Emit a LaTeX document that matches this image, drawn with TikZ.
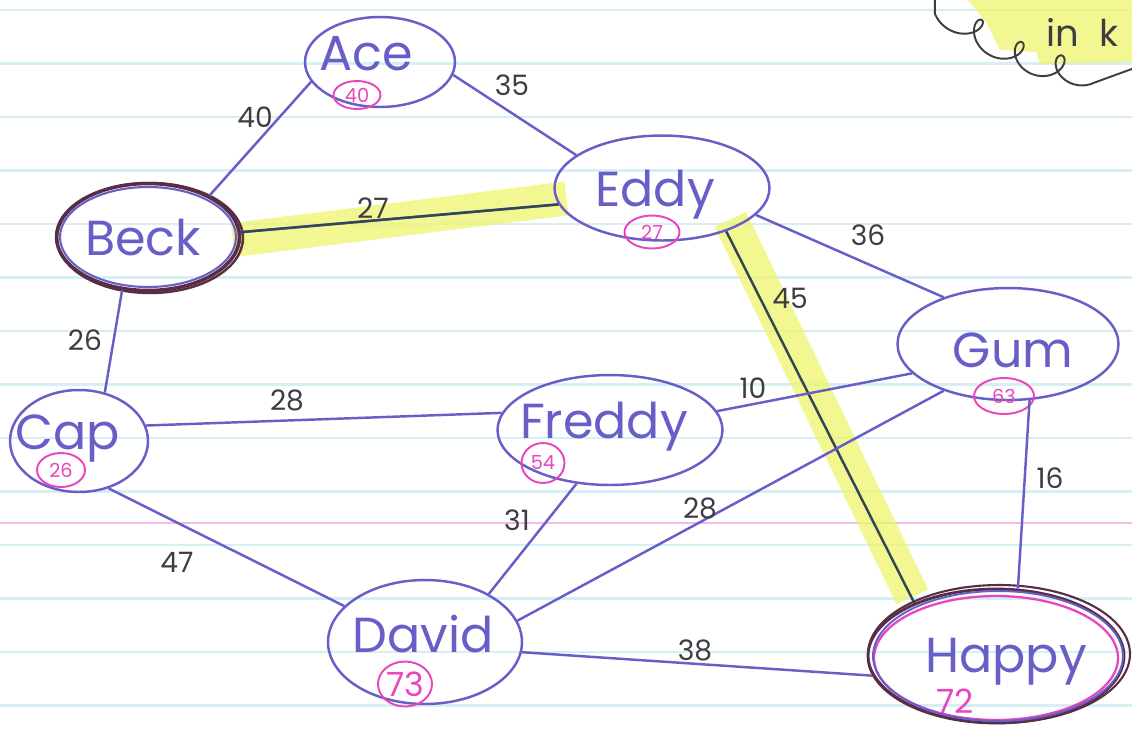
\documentclass[tikz,border=0pt]{standalone}
\usepackage{fontspec}
\setmainfont{Poppins}
\usetikzlibrary{shapes.geometric}
\definecolor{ink}{RGB}{104,94,200}
\definecolor{pen}{RGB}{62,62,66}
\definecolor{pinkink}{RGB}{232,70,190}
\definecolor{hl}{RGB}{238,245,110}
\definecolor{ruled}{RGB}{214,239,244}
\definecolor{marginline}{RGB}{242,186,230}
\definecolor{darkpen}{RGB}{52,70,84}
\definecolor{maroon}{RGB}{88,45,70}
\pgfdeclarelayer{bg}
\pgfsetlayers{bg,main}
\begin{document}
\begin{tikzpicture}[x=0.02cm,y=-0.02cm,
  vertex/.style={ellipse, draw=ink, line width=1.4pt, inner sep=0pt},
  vname/.style={text=ink, font=\fontsize{28}{28}\selectfont, anchor=base, inner sep=0pt},
  cost/.style={ellipse, draw=pinkink, line width=1.1pt, text=pinkink, inner sep=0pt, font=\fontsize{11}{11}\selectfont},
  weight/.style={text=pen, font=\fontsize{16}{16}\selectfont, inner sep=0pt},
  link/.style={draw=ink, line width=1.4pt},
  chosen/.style={draw=darkpen, line width=1.4pt},
  band/.style={draw=hl, line width=0.68cm, opacity=0.75, line cap=butt},
  rule/.style={draw=ruled, line width=1.2pt}
]
\clip (0,0) rectangle (1132,731);

\begin{pgfonlayer}{bg}
  \fill[white] (0,0) rectangle (1132,731);
  \foreach \k in {0,...,13} {
    \draw[rule] (0,{10+53.5*\k}) -- (1132,{10+53.5*\k});
  }
  \draw[draw=marginline, line width=1.2pt] (0,523) -- (1132,523);
\end{pgfonlayer}

% vertices
\node[vertex, minimum width=3.0cm, minimum height=1.8cm] (ace) at (380,62) {};
\node[vertex, minimum width=4.3cm, minimum height=2.1cm] (eddy) at (662,188) {};
\node[vertex, draw=maroon, line width=2pt, minimum width=3.66cm, minimum height=2.14cm] (beck) at (148,237) {};
\node[vertex, minimum width=2.76cm, minimum height=2.04cm] (cap) at (79,441) {};
\node[vertex, minimum width=4.5cm, minimum height=2.2cm] (freddy) at (610,430) {};
\node[vertex, minimum width=4.42cm, minimum height=2.24cm] (gum) at (1008,344) {};
\node[vertex, minimum width=3.88cm, minimum height=2.48cm] (david) at (425,642) {};
\node[vertex, draw=maroon, line width=1.6pt, minimum width=5.12cm, minimum height=2.68cm] (happy) at (996,656) {};

% extra hand-drawn outlines
\draw[ink, line width=1.2pt] (beck.center) ellipse [x radius=1.76cm, y radius=1.0cm];
\draw[maroon, line width=1.4pt] ([shift={(2,1)}]beck.center) ellipse [x radius=1.86cm, y radius=1.1cm];
\draw[maroon, line width=1.2pt] ([shift={(3,-2)}]happy.center) ellipse [x radius=2.62cm, y radius=1.38cm];
\draw[pinkink, line width=1.3pt] ([shift={(0,2)}]happy.center) ellipse [x radius=2.44cm, y radius=1.24cm];
\draw[ink, line width=1.1pt] ([shift={(2,0)}]happy.center) ellipse [x radius=2.5cm, y radius=1.3cm];

% names
\node[vname] (acet) at (366,70) {Ace};
\node[vname] (beckt) at (143,255) {Beck};
\node[vname] (eddyt) at (655,206) {Eddy};
\node[vname] (capt) at (68,449) {Cap};
\node[vname] (freddyt) at (604,438) {Freddy};
\node[vname] (gumt) at (1013,367) {Gum};
\node[vname] (davidt) at (423,652) {David};
\node[vname] (happyt) at (1006,672) {Happy};

% costs
\node[cost, minimum width=0.94cm, minimum height=0.56cm] (c40) at (357,95) {40};
\node[cost, minimum width=1.1cm, minimum height=0.66cm] (c27) at (652,232) {27};
\node[cost, minimum width=0.96cm, minimum height=0.68cm] (c26) at (61,470) {26};
\node[cost, minimum width=0.86cm, minimum height=0.8cm] (c54) at (543,463) {54};
\node[cost, minimum width=1.2cm, minimum height=0.72cm] (c63) at (1004,396) {63};
\node[cost, minimum width=1.08cm, minimum height=0.9cm, font=\fontsize{19}{19}\selectfont] (c73) at (405,684) {73};
\node[text=pinkink, font=\fontsize{19}{19}\selectfont, inner sep=0pt] (c72) at (955,701) {72};

% edges
\draw[link] (ace.196) -- (beck.34);
\draw[link] (ace.350) -- (eddy.159);
\draw[link] (beck.3) -- (eddy.189);
\draw[chosen] (beck.3) -- (eddy.189);
\draw[link] (eddy.344) -- (gum.144);
\draw[chosen] (eddy.326) -- (happy.147);
\draw[link] (beck.244) -- (cap.62);
\draw[link] (cap.13) -- (freddy.171);
\draw[link] (freddy.10) -- (gum.197);
\draw[link] (gum.291) -- (happy.72);
\draw[link] (cap.302) -- (david.156);
\draw[link] (freddy.238) -- (david.37);
\draw[link] (gum.216) -- (david.13);
\draw[link] (david.354) -- (happy.189);

% highlighter bands
\begin{pgfonlayer}{bg}
  \draw[band] ([shift={(-8,8)}]beck.3) -- ([shift={(8,-6)}]eddy.189);
  \draw[band, line width=0.7cm] ([shift={(4,-12)}]eddy.326) -- ([shift={(-2,-6)}]happy.147);
  \fill[hl, opacity=0.75] (968,0) -- (1132,0) -- (1132,62) -- (1040,64) -- (1036,52) -- (1000,50) -- (986,22) -- cycle;
\end{pgfonlayer}

% weights
\node[weight] (w40) at (255,117) {40};
\node[weight] (w35) at (512,85) {35};
\node[weight] (w27a) at (373,208) {27};
\node[weight] (w36) at (868,235) {36};
\node[weight] (w45) at (790,298) {45};
\node[weight] (w26) at (85,340) {26};
\node[weight] (w28a) at (287,400) {28};
\node[weight] (w10) at (753,388) {10};
\node[weight] (w16) at (1050,478) {16};
\node[weight] (w47) at (177,562) {47};
\node[weight] (w31) at (517,520) {31};
\node[weight] (w28b) at (700,508) {28};
\node[weight] (w38) at (695,650) {38};

% corner note
\node[text=pen, font=\fontsize{21}{21}\selectfont, anchor=base west, inner sep=0pt] (note) at (1046,46) {in\hspace{0.55em}k};
\draw[pen, line width=1.1pt] (935,-5) -- plot[domain=-1.5708:19.6, samples=260, smooth]
  ({958+6.5*\x+13*sin(\x r)},{20+60*tanh(\x/14)+13*cos(\x r)}) -- (1140,66);
\end{tikzpicture}
\end{document}
